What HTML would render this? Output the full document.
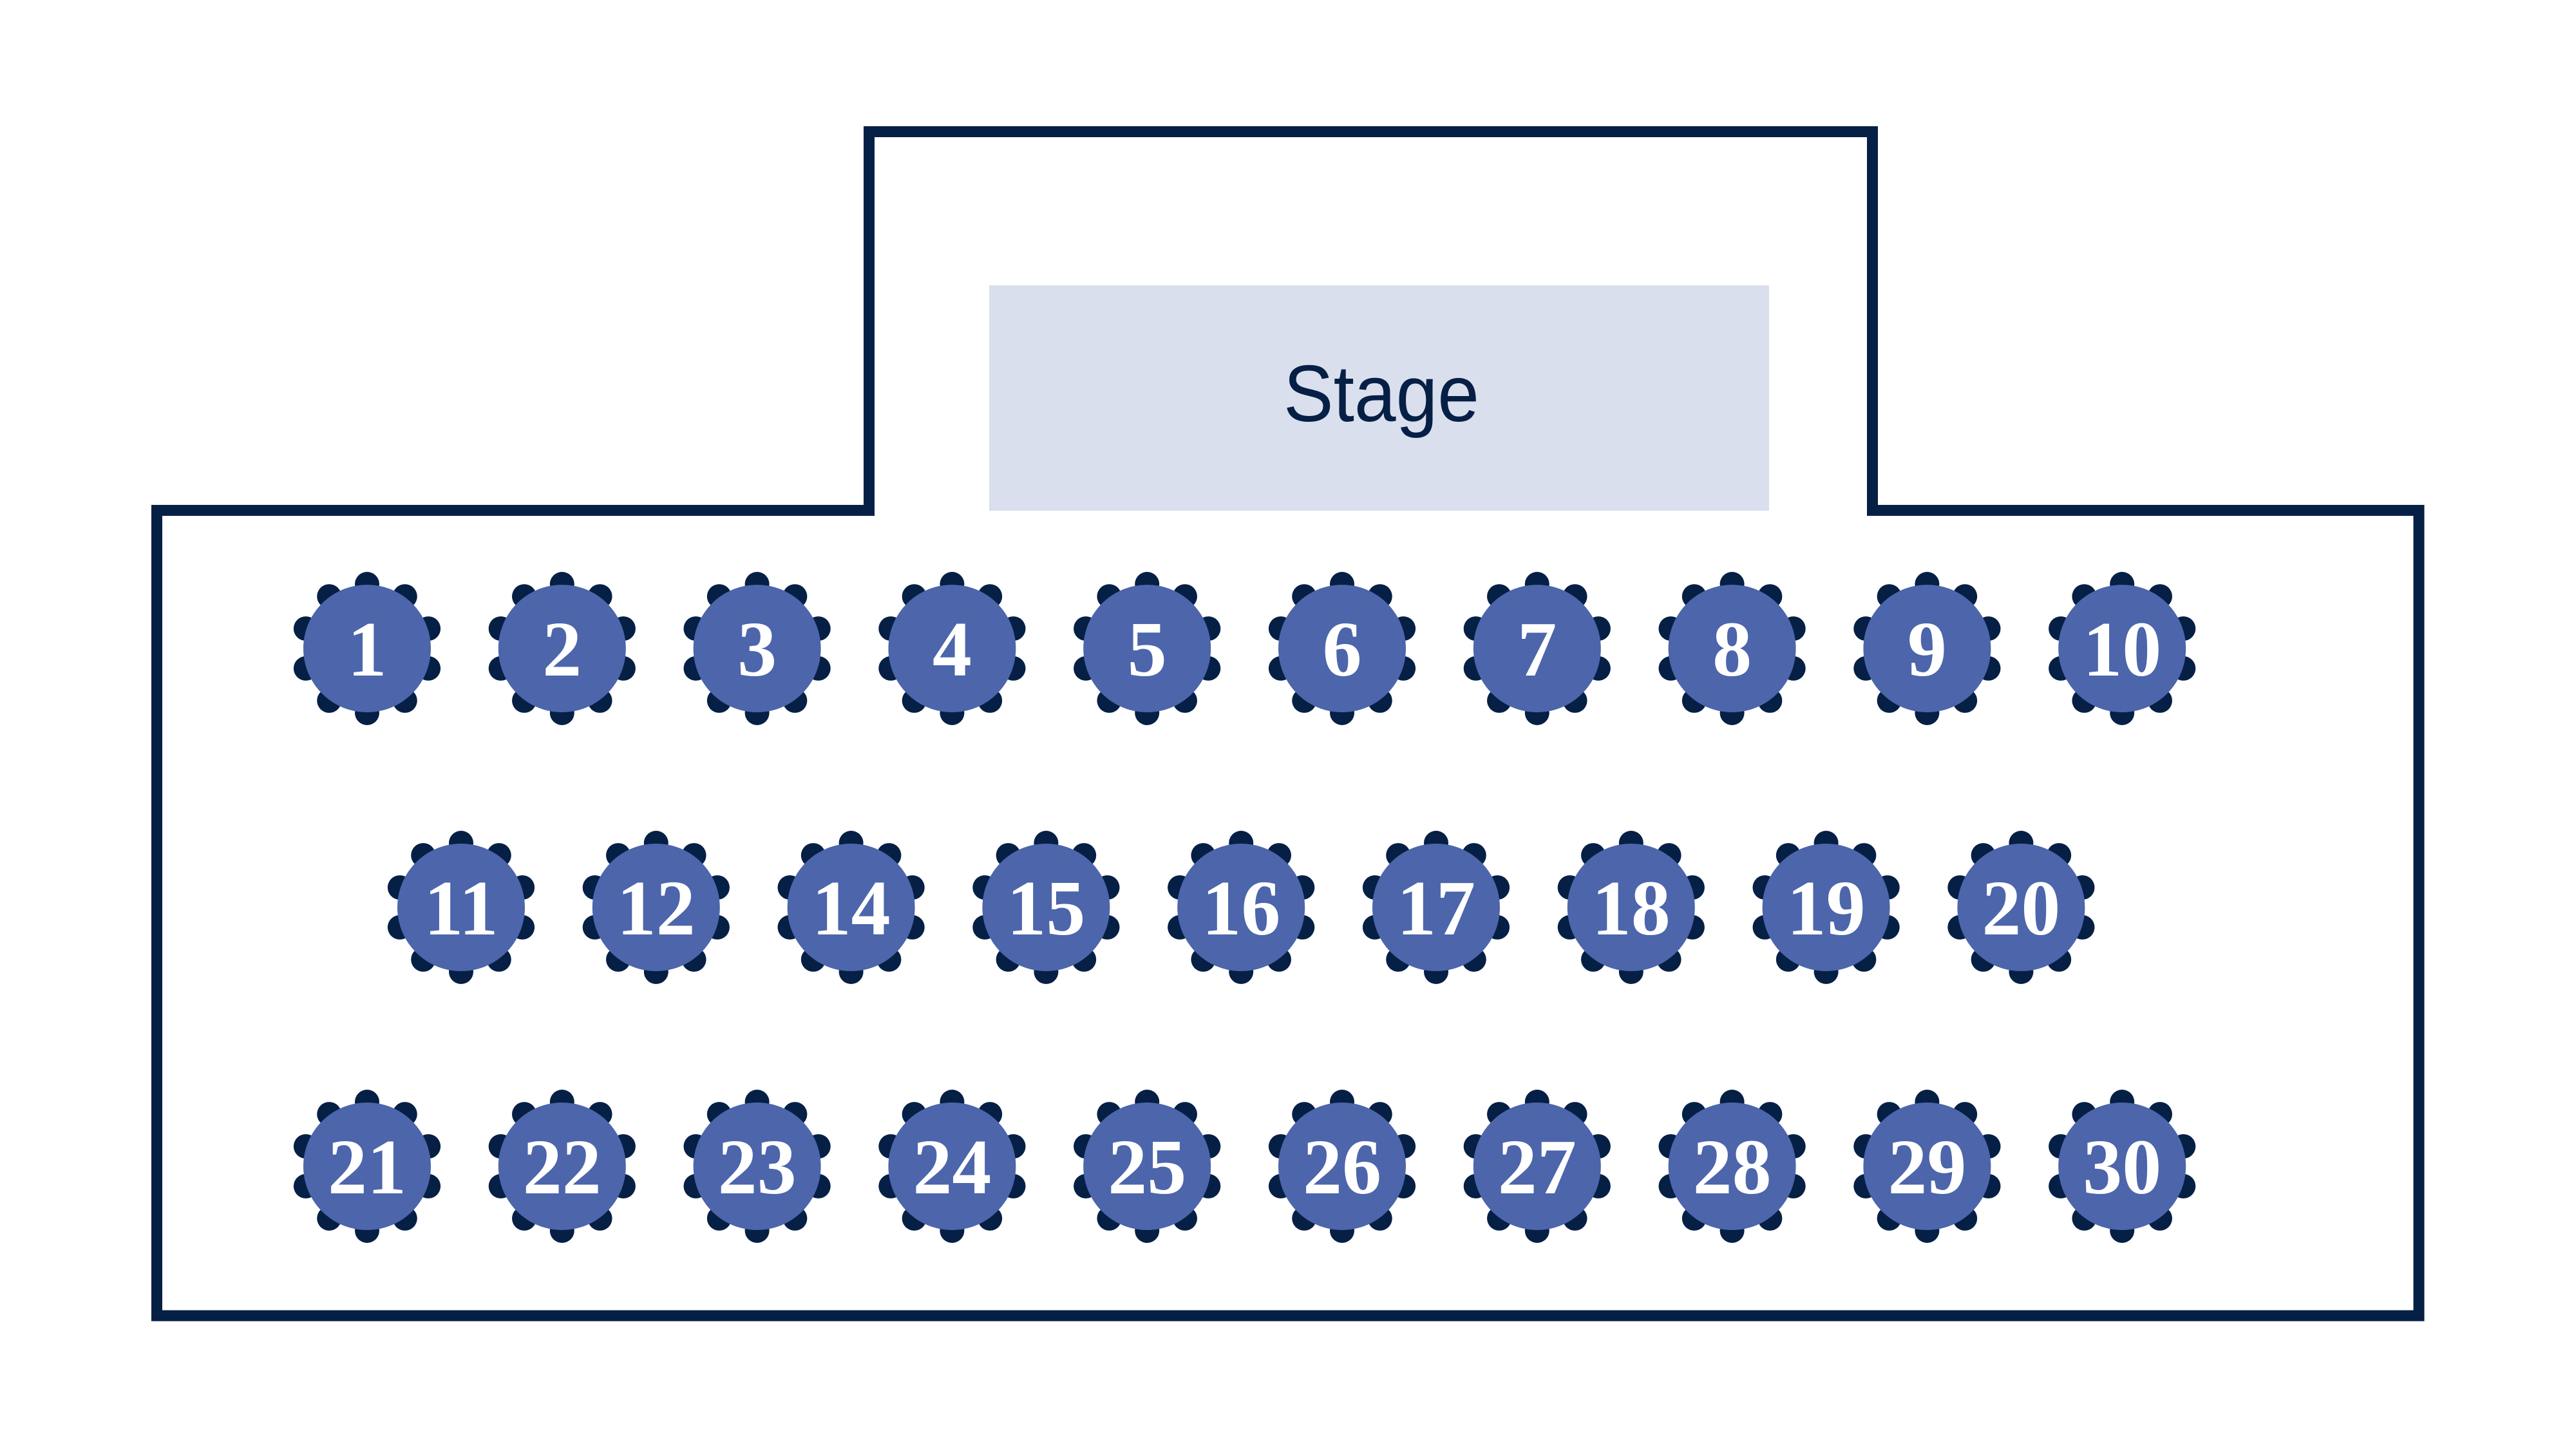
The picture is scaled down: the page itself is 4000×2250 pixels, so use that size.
<!DOCTYPE html>
<html>
<head>
<meta charset="utf-8">
<style>
  html, body { margin: 0; padding: 0; background: #ffffff; }
  body { width: 4000px; height: 2250px; overflow: hidden; }
  svg { display: block; }
  .num { font-family: "Liberation Serif", serif; font-weight: bold; font-size: 122px; fill: #ffffff; text-anchor: middle; }
</style>
</head>
<body>
<svg xmlns="http://www.w3.org/2000/svg" width="4000" height="2250" viewBox="0 0 4000 2250">
  <defs>
    <g id="tbl">
      <g fill="#061f45">
        <circle cx="0" cy="-100" r="19"/>
        <circle cx="58.78" cy="-80.9" r="19"/>
        <circle cx="95.11" cy="-30.9" r="19"/>
        <circle cx="95.11" cy="30.9" r="19"/>
        <circle cx="58.78" cy="80.9" r="19"/>
        <circle cx="0" cy="100" r="19"/>
        <circle cx="-58.78" cy="80.9" r="19"/>
        <circle cx="-95.11" cy="30.9" r="19"/>
        <circle cx="-95.11" cy="-30.9" r="19"/>
        <circle cx="-58.78" cy="-80.9" r="19"/>
      </g>
      <circle cx="0" cy="0" r="99" fill="#4c65ab"/>
    </g>
  </defs>

  <rect x="0" y="0" width="4000" height="2250" fill="#ffffff"/>

  <!-- Room outline -->
  <path d="M243.5,792.5 H1349.5 V204.5 H2907.5 V792.5 H3756 V2043 H243.5 Z"
        fill="none" stroke="#061f45" stroke-width="17" stroke-linejoin="miter"/>

  <!-- Stage -->
  <rect x="1536" y="443" width="1211" height="350" fill="#dadfed"/>
  <text x="2145" y="654" font-family="Liberation Sans, sans-serif" font-size="124" fill="#061f45"
        text-anchor="middle" textLength="304" lengthAdjust="spacingAndGlyphs">Stage</text>

  <!-- Row 1 -->
  <use href="#tbl" x="570" y="1007"/>
  <use href="#tbl" x="872.8" y="1007"/>
  <use href="#tbl" x="1175.6" y="1007"/>
  <use href="#tbl" x="1478.4" y="1007"/>
  <use href="#tbl" x="1781.2" y="1007"/>
  <use href="#tbl" x="2084" y="1007"/>
  <use href="#tbl" x="2386.8" y="1007"/>
  <use href="#tbl" x="2689.6" y="1007"/>
  <use href="#tbl" x="2992.4" y="1007"/>
  <use href="#tbl" x="3295.2" y="1007"/>

  <!-- Row 2 -->
  <use href="#tbl" x="716" y="1409"/>
  <use href="#tbl" x="1018.8" y="1409"/>
  <use href="#tbl" x="1321.6" y="1409"/>
  <use href="#tbl" x="1624.4" y="1409"/>
  <use href="#tbl" x="1927.2" y="1409"/>
  <use href="#tbl" x="2230" y="1409"/>
  <use href="#tbl" x="2532.8" y="1409"/>
  <use href="#tbl" x="2835.6" y="1409"/>
  <use href="#tbl" x="3138.4" y="1409"/>

  <!-- Row 3 -->
  <use href="#tbl" x="570" y="1811"/>
  <use href="#tbl" x="872.8" y="1811"/>
  <use href="#tbl" x="1175.6" y="1811"/>
  <use href="#tbl" x="1478.4" y="1811"/>
  <use href="#tbl" x="1781.2" y="1811"/>
  <use href="#tbl" x="2084" y="1811"/>
  <use href="#tbl" x="2386.8" y="1811"/>
  <use href="#tbl" x="2689.6" y="1811"/>
  <use href="#tbl" x="2992.4" y="1811"/>
  <use href="#tbl" x="3295.2" y="1811"/>

  <!-- Labels row 1 -->
  <text class="num" x="570" y="1049">1</text>
  <text class="num" x="872.8" y="1049">2</text>
  <text class="num" x="1175.6" y="1049">3</text>
  <text class="num" x="1478.4" y="1049">4</text>
  <text class="num" x="1781.2" y="1049">5</text>
  <text class="num" x="2084" y="1049">6</text>
  <text class="num" x="2386.8" y="1049">7</text>
  <text class="num" x="2689.6" y="1049">8</text>
  <text class="num" x="2992.4" y="1049">9</text>
  <text class="num" x="3295.2" y="1049">10</text>

  <!-- Labels row 2 -->
  <text class="num" x="716" y="1451">11</text>
  <text class="num" x="1018.8" y="1451">12</text>
  <text class="num" x="1321.6" y="1451">14</text>
  <text class="num" x="1624.4" y="1451">15</text>
  <text class="num" x="1927.2" y="1451">16</text>
  <text class="num" x="2230" y="1451">17</text>
  <text class="num" x="2532.8" y="1451">18</text>
  <text class="num" x="2835.6" y="1451">19</text>
  <text class="num" x="3138.4" y="1451">20</text>

  <!-- Labels row 3 -->
  <text class="num" x="570" y="1853">21</text>
  <text class="num" x="872.8" y="1853">22</text>
  <text class="num" x="1175.6" y="1853">23</text>
  <text class="num" x="1478.4" y="1853">24</text>
  <text class="num" x="1781.2" y="1853">25</text>
  <text class="num" x="2084" y="1853">26</text>
  <text class="num" x="2386.8" y="1853">27</text>
  <text class="num" x="2689.6" y="1853">28</text>
  <text class="num" x="2992.4" y="1853">29</text>
  <text class="num" x="3295.2" y="1853">30</text>
</svg>
</body>
</html>
